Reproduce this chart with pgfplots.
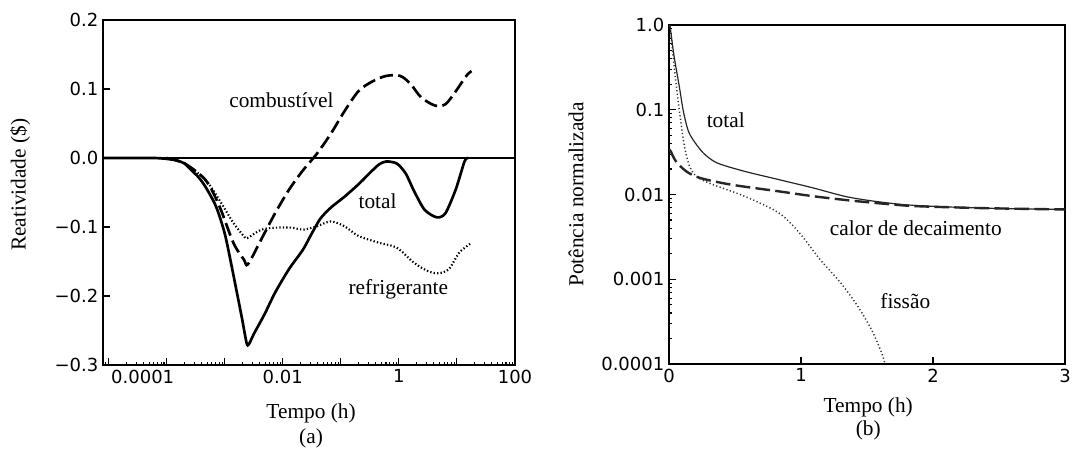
\documentclass[border=0pt]{standalone}
\usepackage{pgfplots}
\pgfplotsset{compat=1.18}
\usepackage{fontspec}
\setmainfont{Liberation Serif}
\newfontfamily\ticksf{DejaVu Sans}

\newcommand{\lbl}{\fontsize{16}{18}\selectfont}

\pgfplotsset{
  panel/.style={
    scale only axis,
    axis line style={line width=1.2pt},
    tick pos=left,
    tick align=inside,
    major tick length=5pt,
    minor tick length=2.5pt,
    every tick/.style={black, line width=0.8pt},
    tick label style={font=\ticksf\fontsize{13.5}{15}\selectfont},
    clip mode=individual,
  },
}

\begin{document}
\begin{tikzpicture}
\useasboundingbox (0,0) rectangle (806.25pt,337.5pt);

% (a) reatividade
\begin{axis}[panel,
  at={(77.25pt,63.75pt)}, anchor=south west,
  width=309pt, height=258.75pt,
  xmode=log, xmin=8e-6, xmax=100,
  ymin=-0.3, ymax=0.2,
  xtick={1e-5,1e-4,1e-3,1e-2,1e-1,1,10,100},
  xticklabels={{},\makebox[0pt]{\hspace*{-36pt}0.0001},{},0.01,{},1,{},100},
  minor xtick={9e-6,2e-5,3e-5,4e-5,5e-5,6e-5,7e-5,8e-5,9e-5,
    2e-4,3e-4,4e-4,5e-4,6e-4,7e-4,8e-4,9e-4,
    2e-3,3e-3,4e-3,5e-3,6e-3,7e-3,8e-3,9e-3,
    0.02,0.03,0.04,0.05,0.06,0.07,0.08,0.09,
    0.2,0.3,0.4,0.5,0.6,0.7,0.8,0.9,
    2,3,4,5,6,7,8,9,20,30,40,50,60,70,80,90},
  ytick={-0.3,-0.2,-0.1,0,0.1,0.2},
  yticklabels={−0.3,−0.2,−0.1,0.0,0.1,0.2},
]
\draw[line width=1.5pt] (axis cs:8e-6,0) -- (axis cs:100,0);

% total
\addplot[black, line width=2pt, smooth, tension=0.45] coordinates {
 (8e-6,0) (6e-5,0) (1.18e-4,-0.002) (1.55e-4,-0.004) (2.04e-4,-0.008)
 (2.69e-4,-0.018) (3.55e-4,-0.028) (4.68e-4,-0.042) (7.06e-4,-0.070)
 (9.98e-4,-0.109) (1.31e-3,-0.156) (1.62e-3,-0.195) (1.99e-3,-0.233)
 (2.38e-3,-0.268) (2.6e-3,-0.270) (3.22e-3,-0.254) (4.88e-3,-0.226)
 (7.38e-3,-0.195) (0.0128,-0.161) (0.0222,-0.133) (0.0313,-0.110)
 (0.0443,-0.088) (0.067,-0.072) (0.116,-0.056) (0.202,-0.038)
 (0.350,-0.018) (0.461,-0.009) (0.608,-0.005) (0.92,-0.008)
 (1.30,-0.022) (1.83,-0.048) (2.77,-0.075) (4.49,-0.086) (6.34,-0.080)
 (9.59,-0.045) (13.5,-0.005) (15.5,0)
};

% combustivel
\addplot[black, line width=2pt, dash pattern=on 10pt off 4pt, smooth, tension=0.5] coordinates {
 (1e-4,0) (2.04e-4,-0.008) (4.68e-4,-0.032) (8.11e-4,-0.070)
 (1.41e-3,-0.123) (2.13e-3,-0.147) (2.51e-3,-0.154) (4.25e-3,-0.118)
 (7.38e-3,-0.080) (0.0128,-0.046) (0.0222,-0.018) (0.0385,0.006)
 (0.067,0.035) (0.116,0.068) (0.202,0.097) (0.350,0.111) (0.608,0.119)
 (1.057,0.119) (1.60,0.107) (2.41,0.088) (4.19,0.076) (6.34,0.078)
 (9.59,0.097) (14.5,0.119) (17.8,0.126)
};

% refrigerante
\addplot[black, line width=1.6pt, dash pattern=on 1pt off 1.6pt, smooth, tension=0.5] coordinates {
 (1e-4,0) (2.04e-4,-0.008) (4.68e-4,-0.032) (8.11e-4,-0.061)
 (1.41e-3,-0.094) (2.13e-3,-0.113) (2.44e-3,-0.116) (4.25e-3,-0.104)
 (7.38e-3,-0.101) (0.0147,-0.101) (0.0222,-0.104) (0.0385,-0.099)
 (0.067,-0.092) (0.116,-0.099) (0.202,-0.113) (0.461,-0.123)
 (0.92,-0.130) (1.83,-0.152) (3.18,-0.164) (4.81,-0.167) (7.28,-0.161)
 (11.0,-0.137) (17.8,-0.123)
};

\node[font=\lbl] at (axis cs:0.0095,0.084) {combustível};
\node[font=\lbl] at (axis cs:0.43,-0.063) {total};
\node[font=\lbl] at (axis cs:0.98,-0.190) {refrigerante};

\node[font=\lbl] at (axis description cs:0.505,-0.139) {Tempo (h)};
\node[font=\lbl] at (axis description cs:0.505,-0.212) {(a)};
\node[font=\lbl, rotate=90] at (axis description cs:-0.201,0.522) {Reatividade (\$)};
\end{axis}

% (b) potencia
\begin{axis}[panel,
  at={(501.75pt,64.5pt)}, anchor=south west,
  width=297pt, height=254.25pt,
  ymode=log, xmin=0, xmax=3, ymin=1e-4, ymax=1,
  xtick={0,1,2,3},
  xticklabels={0,1,2,3},
  ytick={1e-4,1e-3,1e-2,0.1,1},
  yticklabels={0.0001,0.001,0.01,0.1,1.0},
  minor ytick={2e-4,3e-4,4e-4,5e-4,6e-4,7e-4,8e-4,9e-4,
    2e-3,3e-3,4e-3,5e-3,6e-3,7e-3,8e-3,9e-3,
    0.02,0.03,0.04,0.05,0.06,0.07,0.08,0.09,
    0.2,0.3,0.4,0.5,0.6,0.7,0.8,0.9},
  minor xtick={},
]
% total
\addplot[black!85, line width=0.9pt, smooth, tension=0.5] coordinates {
 (0.0,1.0) (0.008,0.956) (0.039,0.424) (0.078,0.188) (0.109,0.0955)
 (0.143,0.0582) (0.182,0.0443) (0.260,0.0309) (0.364,0.0236)
 (0.571,0.0188) (0.831,0.0150) (1.091,0.01197) (1.350,0.00938)
 (1.610,0.00812) (1.870,0.00742) (2.389,0.00690) (3.0,0.00666)
};
% calor de decaimento
\addplot[black!85, line width=1.8pt, dash pattern=on 11pt off 4pt, smooth, tension=0.5] coordinates {
 (0.0,0.034) (0.013,0.0323) (0.052,0.0247) (0.130,0.0188) (0.234,0.0157)
 (0.467,0.0131) (0.831,0.0109) (1.091,0.00955) (1.350,0.00857)
 (1.610,0.00783) (1.870,0.00729) (2.389,0.00690) (3.0,0.00666)
};
% fissao
\addplot[black!80, line width=1.1pt, dash pattern=on 0.9pt off 1.8pt, smooth, tension=0.5] coordinates {
 (0.0,1.0) (0.008,0.956) (0.039,0.323) (0.065,0.1435) (0.091,0.0697)
 (0.117,0.0370) (0.156,0.0215) (0.208,0.0164) (0.312,0.01346)
 (0.571,0.00955) (0.831,0.00608) (0.987,0.00354) (1.143,0.00172)
 (1.299,0.000914) (1.428,0.000485) (1.532,0.000258) (1.610,0.000137)
 (1.636,0.0001)
};

\node[font=\lbl] at (axis cs:0.43,0.076) {total};
\node[font=\lbl] at (axis cs:1.87,0.00405) {calor de decaimento};
\node[font=\lbl] at (axis cs:1.79,0.000556) {fissão};

\node[font=\lbl] at (axis description cs:0.503,-0.127) {Tempo (h)};
\node[font=\lbl] at (axis description cs:0.503,-0.195) {(b)};
\node[font=\lbl, rotate=90] at (axis description cs:-0.235,0.5) {Potência normalizada};
\end{axis}
\end{tikzpicture}
\end{document}
